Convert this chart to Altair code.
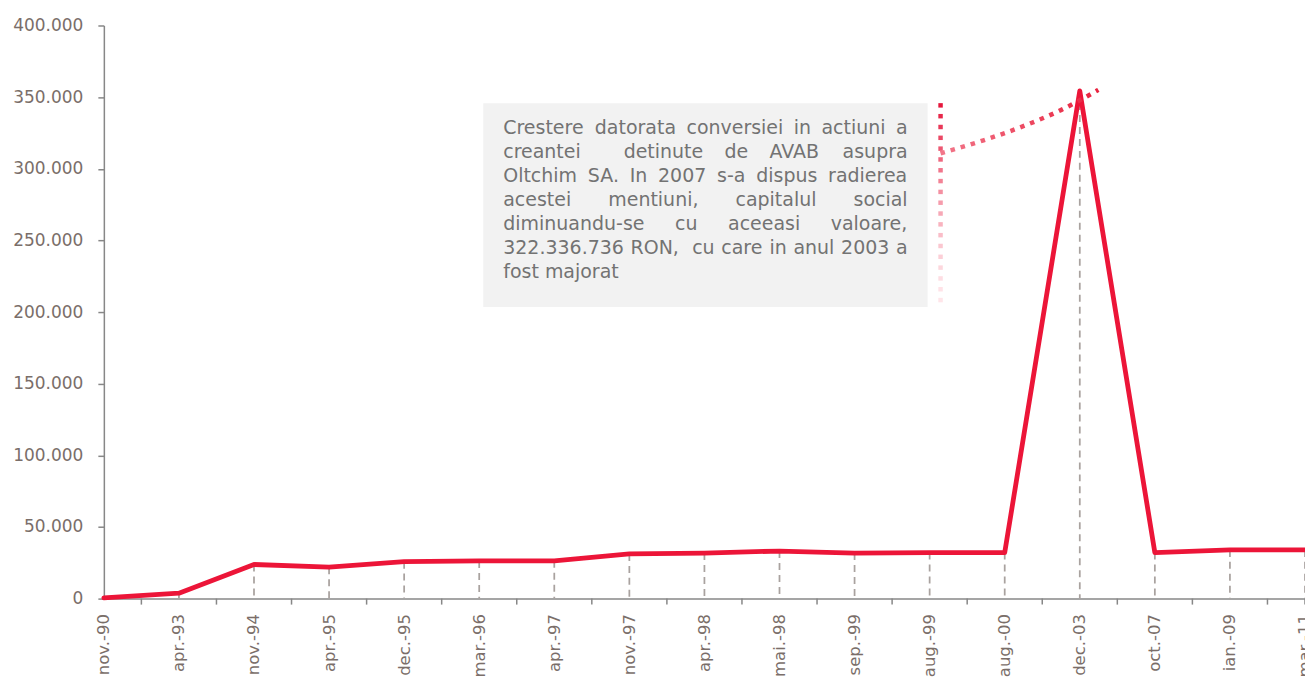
import altair as alt
import pandas as pd

# ---------------- data ----------------
categories = ["nov.-90", "apr.-93", "nov.-94", "apr.-95", "dec.-95", "mar.-96",
              "apr.-97", "nov.-97", "apr.-98", "mai.-98", "sep.-99", "aug.-99",
              "aug.-00", "dec.-03", "oct.-07", "ian.-09", "mar.-11"]
values = [500, 3800, 23800, 21900, 25800, 26300, 26400, 31200, 31800, 33200,
          31800, 32100, 32100, 354300, 32100, 34000, 34000]

y_ticks = [0, 50000, 100000, 150000, 200000, 250000, 300000, 350000, 400000]

note_lines = [
    "Crestere datorata conversiei in actiuni a",
    "creantei  detinute de AVAB asupra",
    "Oltchim SA. In 2007 s-a dispus radierea",
    "acestei mentiuni, capitalul social",
    "diminuandu-se cu aceeasi valoare,",
    "322.336.736 RON,  cu care in anul 2003 a",
    "fost majorat",
]

# ---------------- style ----------------
W, H = 1203, 574
RED = "#EC1538"
AXIS_GRAY = "#878787"
LABEL = "#7a6e69"
FONT = "DejaVu Sans"
NOTE_SIZE = 19

n = len(categories)
df = pd.DataFrame({"idx": list(range(n)), "label": categories, "value": values})

label_expr = "[" + ",".join("'%s'" % c for c in categories) + "][datum.value]"

x_enc = alt.X(
    "idx:Q",
    scale=alt.Scale(domain=[0, n - 1], nice=False, zero=False),
    axis=alt.Axis(values=list(range(n)), labelExpr=label_expr, labelAngle=-90,
                  ticks=False, grid=False, domainColor=AXIS_GRAY, domainWidth=1.5,
                  labelColor=LABEL, labelFontSize=16.5, labelFont=FONT,
                  labelPadding=15, labelFlush=False, labelOverlap=False, title=None),
)
y_enc = alt.Y(
    "value:Q",
    scale=alt.Scale(domain=[0, 400000], nice=False),
    axis=alt.Axis(values=y_ticks,
                  labelExpr="replace(format(datum.value, ',d'), ',', '.')",
                  grid=False, domainColor=AXIS_GRAY, domainWidth=1.5,
                  tickColor=AXIS_GRAY, tickWidth=1.5, tickSize=6,
                  labelColor=LABEL, labelFontSize=17, labelFont=FONT,
                  labelPadding=15, title=None),
)

# dashed drop lines
drops = alt.Chart(df).mark_rule(color="#a9a29f", strokeWidth=1.75,
                                strokeDash=[7, 5]).encode(
    x=x_enc, y=y_enc, y2=alt.datum(0))

# main line
line = alt.Chart(df).mark_line(color=RED, strokeWidth=4.8,
                               strokeJoin="round", strokeCap="round").encode(
    x=x_enc, y=y_enc)

# x-axis tick marks between categories (and at the end)
tick_pos = [i + 0.5 for i in range(n - 1)] + [n - 1]
ticks_df = pd.DataFrame({"idx": tick_pos})
xticks = alt.Chart(ticks_df).mark_rule(color=AXIS_GRAY, strokeWidth=1.5).encode(
    x=alt.X("idx:Q", scale=alt.Scale(domain=[0, n - 1], nice=False, zero=False)),
    y=alt.value(H), y2=alt.value(H + 6))

# annotation box
one = pd.DataFrame({"a": [0]})
box = alt.Chart(one).mark_rect(color="#F2F2F2").encode(
    x=alt.value(380), x2=alt.value(825), y=alt.value(78), y2=alt.value(282))

# justified annotation text
DV = {' ': .318, 'a': .613, 'b': .635, 'c': .550, 'd': .635, 'e': .615, 'f': .352,
      'g': .635, 'h': .634, 'i': .278, 'j': .278, 'k': .579, 'l': .278, 'm': .974,
      'n': .634, 'o': .612, 'p': .635, 'q': .635, 'r': .411, 's': .521, 't': .392,
      'u': .634, 'v': .592, 'w': .818, 'x': .592, 'y': .592, 'z': .525, '.': .318,
      ',': .318, '-': .361, 'C': .698, 'A': .684, 'V': .684, 'B': .686, 'O': .787,
      'S': .635, 'I': .295, 'R': .695, 'N': .748}


def wlen(s):
    return sum(DV.get(ch, .636) for ch in s) * NOTE_SIZE


left, right = 400, 805
rows = []
for li, ln in enumerate(note_lines):
    yb = 109 + 24 * li
    words = ln.split(" ")
    natural = sum(wlen(w) for w in words)
    nsp = len(words) - 1
    if li == len(note_lines) - 1 or nsp == 0:
        gap = wlen(" ")
    else:
        gap = (right - left - natural) / nsp
    xx = left
    for wi, w in enumerate(words):
        if w:
            rows.append({"px": xx, "py": yb, "word": w})
        xx += wlen(w) + gap
text_df = pd.DataFrame(rows)
note = alt.Chart(text_df).mark_text(align="left", baseline="alphabetic",
                                    font=FONT, fontSize=NOTE_SIZE,
                                    color="#737373").encode(
    x=alt.X("px:Q", scale=None), y=alt.Y("py:Q", scale=None), text="word:N")


# vertical dotted connector with fading colour
def mix(c1, c2, t):
    a = [int(c1[i:i + 2], 16) for i in (1, 3, 5)]
    b = [int(c2[i:i + 2], 16) for i in (1, 3, 5)]
    return "#" + "".join("%02x" % round(a[k] + (b[k] - a[k]) * t) for k in range(3))


ndots = 19
y0, y1 = 80, 275
dots = []
for i in range(ndots):
    t = i / (ndots - 1)
    f = 1 - (1 - t) ** 1.5
    dots.append({"px": 838, "py": y0 + (y1 - y0) * t,
                 "c": mix("#E5173C", "#FFE5E9", f)})
dots_df = pd.DataFrame(dots)
vdots = alt.Chart(dots_df).mark_square(size=20, opacity=1).encode(
    x=alt.X("px:Q", scale=None), y=alt.Y("py:Q", scale=None),
    color=alt.Color("c:N", scale=None))

# curved dotted connector toward the peak
curve_df = pd.DataFrame({"px": [838, 881, 923, 959, 996],
                         "py": [128, 115, 100, 84.5, 64.5]})
curve = alt.Chart(curve_df).mark_line(
    interpolate="monotone", strokeWidth=4.5, strokeDash=[4.5, 6],
    stroke=alt.Gradient(gradient="linear",
                        stops=[alt.GradientStop(color="#F2778A", offset=0),
                               alt.GradientStop(color="#E8233F", offset=1)],
                        x1=0, x2=1, y1=0, y2=0)).encode(
    x=alt.X("px:Q", scale=None), y=alt.Y("py:Q", scale=None))

chart = alt.layer(box, drops, xticks, line, vdots, curve, note).properties(
    width=W, height=H, autosize="none",
    padding={"left": 96, "top": 17, "right": 0, "bottom": 81},
).configure_view(stroke=None)

chart.save("out.html", embed_options={"renderer": "svg", "actions": False})
